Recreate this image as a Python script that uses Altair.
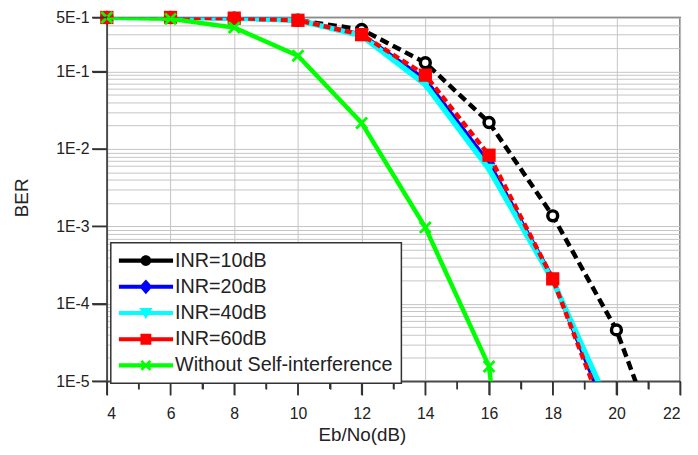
import altair as alt
import pandas as pd

# ---- data ----
EBNO = [4, 6, 8, 10, 12, 14, 16, 18, 20, 22]
SERIES = ["INR=10dB", "INR=20dB", "INR=40dB", "INR=60dB", "Without Self-interference"]
BER_10 = [0.5, 0.5, 0.49, 0.46, 0.35, 0.13, 0.022, 1.37e-3, 4.6e-5, 2.8e-7]
BER_20 = [0.5, 0.5, 0.49, 0.46, 0.30, 0.078, 0.0065, 2.1e-4, 2.0e-6]
BER_40 = [0.5, 0.5, 0.49, 0.46, 0.29, 0.068, 0.0055, 2.0e-4, 3.0e-6]
BER_60 = [0.5, 0.5, 0.49, 0.46, 0.30, 0.09, 0.0083, 2.1e-4, 1.5e-6]
BER_NOSI = [0.5, 0.48, 0.37, 0.16, 0.0217, 9.7e-4, 1.55e-5, 1e-12]
ALL_BER = [BER_10, BER_20, BER_40, BER_60, BER_NOSI]

X_TICKS = list(range(4, 23))
Y_LABELLED = [0.5, 0.1, 0.01, 0.001, 0.0001, 0.00001]
Y_GRID = [float(f"{k}e{e}") for e in range(-5, 0) for k in range(1, 10) if float(f"{k}e{e}") <= 0.5]

# ---- styles ----
COLORS = ["#000000", "#0000ff", "#00ffff", "#ff0000", "#00ff00"]
DASHES = [[9, 5], [1, 0], [1, 0], [7, 4], [1, 0]]
WIDTHS = [4.5, 4.5, 5.5, 4.5, 4.5]
XMARK = "M-0.7,-1L-1,-0.7L0.7,1L1,0.7Z M0.7,-1L1,-0.7L-0.7,1L-1,0.7Z"
MARKERS = [("circle", 100), ("diamond", 170), ("triangle-down", 160), ("square", 180), (XMARK, 170)]
LINE = "M-1,-0.075H1V0.075H-1Z "
LEGEND_SYMBOLS = [
    LINE + "M0.2,0A0.2,0.2,0,1,1,-0.2,0A0.2,0.2,0,1,1,0.2,0Z",
    LINE + "M0,-0.27L0.24,0L0,0.27L-0.24,0Z",
    LINE + "M-0.24,-0.18L0.24,-0.18L0,0.22Z",
    LINE + "M-0.2,-0.2H0.2V0.2H-0.2Z",
    LINE + "M-0.2,-0.13L-0.13,-0.2L0.2,0.13L0.13,0.2Z M0.13,-0.2L0.2,-0.13L-0.13,0.2L-0.2,0.13Z",
]
TICK_COLOR = "#333333"

rows = []
for name, vals in zip(SERIES, ALL_BER):
    for x, b in zip(EBNO, vals):
        rows.append({"series": name, "ebno": x, "ber": b})
df = pd.DataFrame(rows)

FONT = "Liberation Sans"
DEC_TEST = "abs(log(datum.value)/LN10 - round(log(datum.value)/LN10)) < 1e-6 || abs(datum.value - 0.5) < 1e-9"
LABEL_EXPR = ("abs(datum.value - 0.5) < 1e-9 ? '5E-1' : (abs(log(datum.value)/LN10 - round(log(datum.value)/LN10)) < 1e-6"
              " ? '1E' + round(log(datum.value)/LN10) : '')")

xscale = alt.Scale(domain=[4, 22], nice=False, zero=False)
yscale = alt.Scale(type="log", domain=[1e-5, 0.5], nice=False)
cscale = alt.Scale(domain=SERIES, range=COLORS)

x_axis = alt.Axis(
    values=X_TICKS,
    labelExpr="datum.value % 2 == 0 ? datum.label : ''",
    ticks=True,
    tickSize={"condition": {"test": "datum.value % 2 == 0", "value": 14}, "value": 8},
    gridOpacity={"condition": {"test": "datum.value % 2 == 0", "value": 1}, "value": 0},
    gridColor="#c4c4c4", gridWidth=1,
    domainColor="#4a4a4a", domainWidth=1.5, tickColor=TICK_COLOR, tickWidth=1.5, tickOpacity=1,
    labelFont=FONT, labelFontSize=16, labelColor="#222222", labelPadding=11,
    title="Eb/No(dB)", titleFont=FONT, titleFontSize=19, titleFontWeight="normal", titleColor="#222222",
    titleX=258, titleY=60, titleBaseline="alphabetic", titleAlign="center",
)
y_axis = alt.Axis(
    values=Y_GRID,
    labelExpr=LABEL_EXPR,
    ticks=True,
    tickOpacity={"condition": {"test": DEC_TEST, "value": 1}, "value": 0},
    tickSize=15, gridColor="#c4c4c4", gridWidth=1,
    domainColor="#4a4a4a", domainWidth=1.5, tickColor=TICK_COLOR, tickWidth=1.5,
    labelFont=FONT, labelFontSize=16, labelColor="#222222", labelPadding=3,
    title="BER", titleFont=FONT, titleFontSize=19, titleFontWeight="normal", titleColor="#222222",
    titleX=-80, titleY=182, titleAngle=270, titleBaseline="alphabetic", titleAlign="center",
)

base = alt.Chart(df)
layers = []
for i, name in enumerate(SERIES):
    sub = base.transform_filter(alt.datum.series == name)
    line = sub.mark_line(clip=True, color=COLORS[i], strokeWidth=WIDTHS[i], strokeDash=DASHES[i]).encode(
        x=alt.X("ebno:Q", scale=xscale, axis=x_axis),
        y=alt.Y("ber:Q", scale=yscale, axis=y_axis),
    )
    shape, size = MARKERS[i]
    if i == 0:
        pm = sub.mark_point(filled=False, fill="white", stroke=COLORS[i], strokeWidth=3.5,
                            shape=shape, size=size, opacity=1)
    else:
        pm = sub.mark_point(filled=True, color=COLORS[i], shape=shape, size=size, opacity=1)
    pts = pm.transform_filter(alt.datum.ber >= 1e-5).encode(
        x=alt.X("ebno:Q", scale=xscale, axis=x_axis),
        y=alt.Y("ber:Q", scale=yscale, axis=y_axis),
    )
    layers += [line, pts]

# axis tick marks, placed through the scales
xt = alt.Chart(pd.DataFrame({"ebno": X_TICKS}))
x_major = xt.transform_filter("datum.ebno % 2 == 0").mark_rule(
    color=TICK_COLOR, strokeWidth=1.5, y2Offset=14
).encode(
    x=alt.X("ebno:Q", scale=xscale, axis=x_axis),
    y=alt.YDatum(1e-5, axis=y_axis),
    y2=alt.datum(1e-5),
)
x_minor = xt.transform_filter("datum.ebno % 2 == 1").mark_rule(
    color=TICK_COLOR, strokeWidth=1.5, y2Offset=8
).encode(
    x=alt.X("ebno:Q", scale=xscale, axis=x_axis),
    y=alt.YDatum(1e-5, axis=y_axis),
    y2=alt.datum(1e-5),
)
y_ticks = alt.Chart(pd.DataFrame({"ber": Y_LABELLED})).mark_rule(
    color=TICK_COLOR, strokeWidth=1.5, x2Offset=-15
).encode(
    y=alt.Y("ber:Q", scale=yscale, axis=y_axis),
    x=alt.XDatum(4, axis=x_axis),
    x2=alt.datum(4),
)
layers += [x_major, x_minor, y_ticks]

legend_layer = base.transform_filter("false").mark_point(filled=True, opacity=1, size=3025).encode(
    x=alt.X("ebno:Q", scale=xscale, axis=x_axis),
    y=alt.Y("ber:Q", scale=yscale, axis=y_axis),
    color=alt.Color("series:N", scale=cscale, legend=alt.Legend(
        title=None, orient="none", legendX=4, legendY=228,
        symbolSize=3025, labelFont=FONT, labelFontSize=20, labelColor="#222222",
        labelLimit=400, labelOffset=2, padding=8, rowPadding=6.5, clipHeight=20,
        fillColor="white", strokeColor="#333333",
    )),
    shape=alt.Shape("series:N", scale=alt.Scale(domain=SERIES, range=LEGEND_SYMBOLS)),
)
layers.append(legend_layer)

chart = alt.layer(*layers).properties(
    width=580, height=368,
    autosize=alt.AutoSizeParams(type="none"),
    padding={"left": 100, "top": 7, "right": 10, "bottom": 65},
).configure_view(stroke="#4a4a4a", strokeWidth=1.5).configure_legend(
    strokeWidth=1.5, symbolStrokeWidth=0
).configure_axis(ticks=True, tickColor=TICK_COLOR, tickWidth=1.5)

chart.save("out.html", embed_options={"renderer": "svg", "actions": False})
